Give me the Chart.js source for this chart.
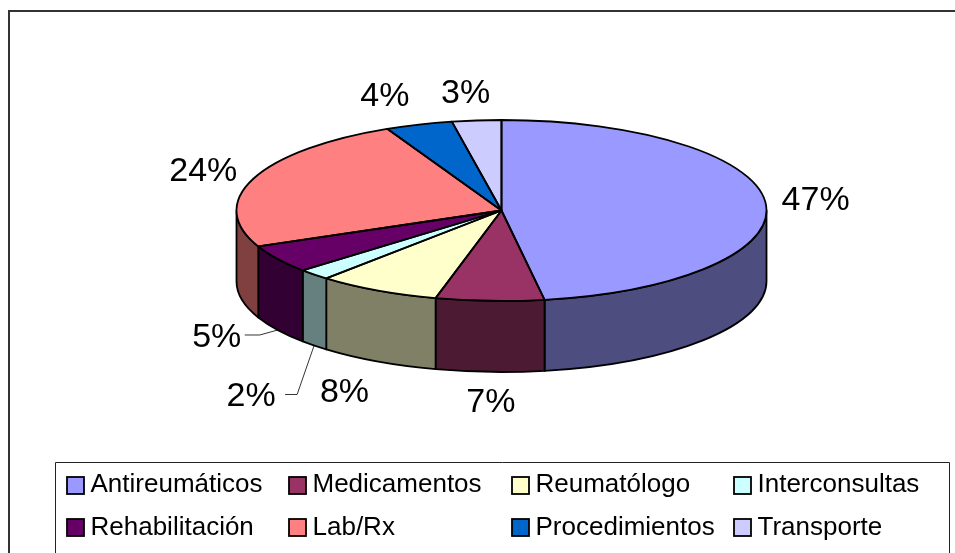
<!DOCTYPE html>
<html>
<head>
<meta charset="utf-8">
<style>
  html, body { margin: 0; padding: 0; background: #fff; overflow: hidden; }
  canvas { display: block; }
</style>
<script src="https://cdn.jsdelivr.net/npm/chart.js@4/dist/chart.umd.min.js"></script>
</head>
<body>
<canvas id="chart" width="955" height="553"></canvas>
<script>
const categories = ['Antireumáticos', 'Medicamentos', 'Reumatólogo', 'Interconsultas',
                    'Rehabilitación', 'Lab/Rx', 'Procedimientos', 'Transporte'];
const shares = [47.4, 6.6, 7.5, 2.0, 5.0, 24.4, 4.1, 3.0];
const percentLabels = ['47%', '7%', '8%', '2%', '5%', '24%', '4%', '3%'];
const sliceColors = ['#9999FF', '#993366', '#FFFFCC', '#CCFFFF', '#660066', '#FF8080', '#0066CC', '#CCCCFF'];

// tilt of the pie: the library lays out a round pie, it gets squashed onto this ellipse
const SQUASH = 90.5 / 265;
const TOP_CY = 210.5;
const DEPTH = 71;
const FONT = '"Liberation Sans", Arial, sans-serif';

// label position relative to the rim point at the middle of each slice
const labelNudge = [[50, -2], [1, 102], [-33, 102], [-63, 122], [-61, 79], [-50, -7], [-34, -28], [-11, -27]];
// slices whose label hangs off a leader line, the line ends at the bottom of the wall
const leaders = { 3: [[-29, 120], [-17, 120]], 4: [[-33, 76], [-18, 76]] };

function darker(hex) {
  const n = parseInt(hex.slice(1), 16);
  const half = s => Math.round(((n >> s) & 255) / 2);
  return `rgb(${half(16)},${half(8)},${half(0)})`;
}

function rimPath(ctx, arc, a0, a1, dy, ccw) {
  const cy = TOP_CY + dy;
  ctx.ellipse(arc.x, cy, arc.outerRadius, arc.outerRadius * SQUASH, 0, a0, a1, ccw);
}

const tiltedPie = {
  id: 'tiltedPie',
  beforeDatasetsDraw(chart) {
    const ctx = chart.ctx;
    const arcs = chart.getDatasetMeta(0).data;
    const midY = (chart.chartArea.top + chart.chartArea.bottom) / 2;

    // walls, only what faces the viewer
    ctx.save();
    ctx.lineWidth = 1.8;
    ctx.strokeStyle = '#000';
    ctx.lineJoin = 'round';
    arcs.forEach((arc, i) => {
      const a0 = Math.max(arc.startAngle, 0);
      const a1 = Math.min(arc.endAngle, Math.PI);
      if (a1 <= a0) return;
      ctx.beginPath();
      rimPath(ctx, arc, a0, a1, 0, false);
      rimPath(ctx, arc, a1, a0, DEPTH, true);
      ctx.closePath();
      ctx.fillStyle = darker(sliceColors[i]);
      ctx.fill();
      ctx.stroke();
    });
    ctx.restore();

    // the library fills the slices through this transform
    ctx.save();
    ctx.translate(0, TOP_CY);
    ctx.scale(1, SQUASH);
    ctx.translate(0, -midY);
  },
  afterDatasetsDraw(chart) {
    const ctx = chart.ctx;
    ctx.restore();
    const arcs = chart.getDatasetMeta(0).data;

    ctx.save();
    ctx.lineWidth = 1.8;
    ctx.strokeStyle = '#000';
    ctx.lineJoin = 'round';
    arcs.forEach(arc => {
      ctx.beginPath();
      ctx.moveTo(arc.x, TOP_CY);
      rimPath(ctx, arc, arc.startAngle, arc.endAngle, 0, false);
      ctx.closePath();
      ctx.stroke();
    });
    ctx.restore();

    // percent labels and leader lines
    ctx.save();
    ctx.font = '34px ' + FONT;
    ctx.fillStyle = '#000';
    ctx.textAlign = 'center';
    ctx.textBaseline = 'middle';
    arcs.forEach((arc, i) => {
      const mid = (arc.startAngle + arc.endAngle) / 2;
      const px = arc.x + arc.outerRadius * Math.cos(mid);
      const py = TOP_CY + arc.outerRadius * SQUASH * Math.sin(mid);
      ctx.fillText(percentLabels[i], px + labelNudge[i][0], py + labelNudge[i][1]);
      if (leaders[i]) {
        ctx.beginPath();
        ctx.moveTo(px + leaders[i][0][0], py + leaders[i][0][1]);
        ctx.lineTo(px + leaders[i][1][0], py + leaders[i][1][1]);
        ctx.lineTo(px, py + DEPTH);
        ctx.strokeStyle = '#000';
        ctx.lineWidth = 0.8;
        ctx.stroke();
      }
    });
    ctx.restore();
  }
};

const frameAndLegend = {
  id: 'frameAndLegend',
  beforeDraw(chart) {
    const ctx = chart.ctx;
    ctx.save();
    ctx.fillStyle = '#fff';
    ctx.fillRect(0, 0, 955, 553);
    // chart frame, runs off the picture on the right and at the bottom
    ctx.strokeStyle = '#333';
    ctx.lineWidth = 2;
    ctx.beginPath();
    ctx.moveTo(9, 553);
    ctx.lineTo(9, 11);
    ctx.lineTo(955, 11);
    ctx.stroke();
    ctx.restore();
  },
  afterDraw(chart) {
    const ctx = chart.ctx;
    const cols = [67, 289, 512, 734];
    const swatchRows = [477, 519];
    const textRows = [492, 535];
    ctx.save();
    ctx.fillStyle = '#fff';
    ctx.fillRect(56, 462, 893, 91);
    ctx.strokeStyle = '#222';
    ctx.lineWidth = 1;
    ctx.beginPath();
    ctx.moveTo(55.5, 553);
    ctx.lineTo(55.5, 462.5);
    ctx.lineTo(949.5, 462.5);
    ctx.lineTo(949.5, 553);
    ctx.stroke();
    ctx.font = '26px ' + FONT;
    ctx.textBaseline = 'alphabetic';
    ctx.textAlign = 'left';
    categories.forEach((name, i) => {
      const x = cols[i % 4];
      const row = Math.floor(i / 4);
      ctx.fillStyle = sliceColors[i];
      ctx.fillRect(x, swatchRows[row], 17, 17);
      ctx.strokeStyle = '#000';
      ctx.lineWidth = 1.8;
      ctx.strokeRect(x, swatchRows[row], 17, 17);
      ctx.fillStyle = '#000';
      ctx.fillText(name, x + 23.5, textRows[row]);
    });
    ctx.restore();
  }
};

new Chart(document.getElementById('chart'), {
  type: 'pie',
  data: {
    labels: categories,
    datasets: [{
      data: shares,
      backgroundColor: sliceColors,
      borderWidth: 0,
      hoverOffset: 0
    }]
  },
  options: {
    responsive: false,
    animation: false,
    events: [],
    layout: { padding: { left: 236, right: 188, top: 0, bottom: 23 } },
    plugins: {
      legend: { display: false },
      tooltip: { enabled: false }
    }
  },
  plugins: [frameAndLegend, tiltedPie]
});
</script>
</body>
</html>
